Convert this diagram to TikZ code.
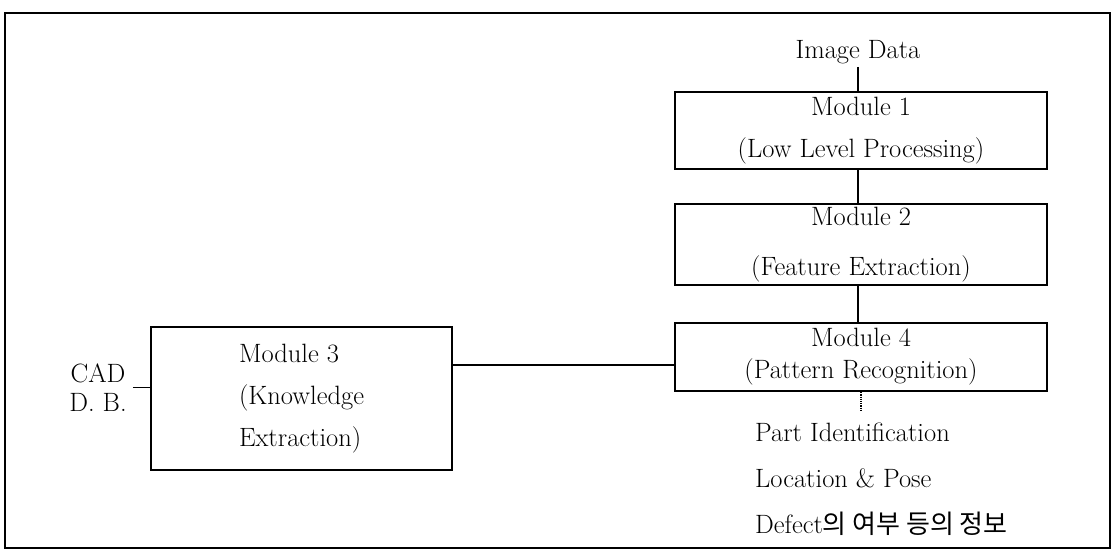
\documentclass[tikz,border=0pt]{standalone}
\usepackage{fontspec}
\newfontfamily\krfont{Noto Sans CJK KR}
\begin{document}
\begin{tikzpicture}[x=1pt,y=-1pt,
  txt/.style={font=\fontsize{26.5}{42}\selectfont, inner sep=3pt},
  modbox/.style={draw, line width=2.2pt, txt, align=center},
  conn/.style={line width=1.5pt}
]
\useasboundingbox (0,0) rectangle (1114,553);
\draw[line width=2pt] (5,13) rectangle (1110,548);

\node[txt] (img) at (858,52) {Image Data};
\node[modbox, minimum width=372pt, minimum height=77pt] (m1) at (861,130.5) {Module 1\\(Low Level Processing)};
\node[modbox, minimum width=372pt, minimum height=77pt] (m2) at (861,244.5) {Module 2\\[8pt](Feature Extraction)};
\node[modbox, minimum width=372pt, minimum height=68pt] (m4) at (861,357) {Module 4\\[-10pt](Pattern Recognition)};
\node[modbox, align=left, line width=2pt, minimum width=301pt, minimum height=143pt] (m3) at (301.5,398.5) {Module 3\\(Knowledge\\Extraction)};
\node[txt, align=center, inner sep=6pt] (cad) at (98,387.5) {CAD\\[-13pt]D. B.};
\node[txt, align=left, anchor=west, font=\fontsize{26.5}{46}\selectfont] (out) at (752,479) {Part Identification\\Location \& Pose\\Defect{\krfont\fontsize{26}{46}\selectfont 의 여부 등의 정보}};
\coordinate (ot) at (861,410);

\draw[conn] (img.south) -- (img.south |- m1.north);
\draw[conn] (m1.south -| img) -- (m2.north -| img);
\draw[conn] (m2.south -| img) -- (m4.north -| img);
\draw[line width=1.2pt, densely dotted] (m4.south) -- (ot);
\draw[conn] ([yshift=-8pt]m4.west) -- ([yshift=-8pt]m4.west -| m3.east);
\draw[conn] (cad.east) -- (cad.east -| m3.west);
\end{tikzpicture}
\end{document}
